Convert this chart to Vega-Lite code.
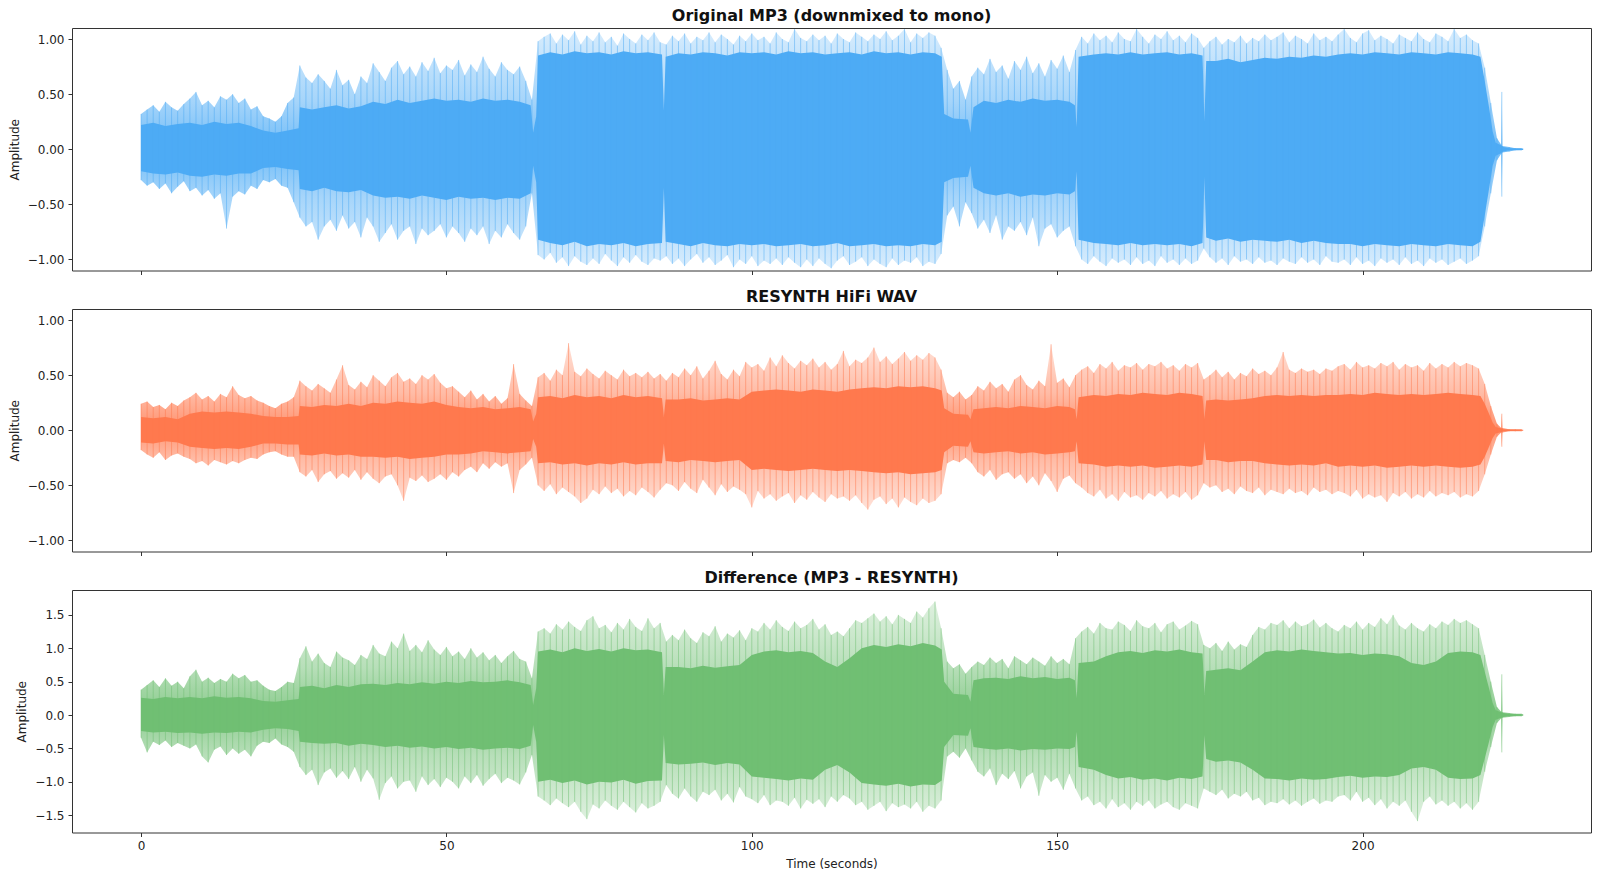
{
  "$schema": "https://vega.github.io/schema/vega-lite/v6.json",
  "background": "white",
  "padding": {"left": 7, "top": 7, "right": 9, "bottom": 6},
  "bounds": "flush",
  "spacing": 38,
  "config": {
    "font": "DejaVu Sans",
    "view": {"stroke": "#333333", "strokeWidth": 1},
    "axis": {
      "labelFont": "DejaVu Sans", "labelFontSize": 12, "labelColor": "#222222",
      "titleFont": "DejaVu Sans", "titleFontSize": 12, "titleFontWeight": "normal", "titleColor": "#222222",
      "domain": false, "grid": false, "tickColor": "#333333", "tickSize": 4, "labelPadding": 4,
      "labelFlush": false, "labelOverlap": false
    },
    "title": {"font": "DejaVu Sans", "fontSize": 16, "fontWeight": "bold", "color": "#111111", "offset": 4, "baseline": "alphabetic"}
  },
  "datasets": {
    "peaks": [
      {"t":0,"mp3Hi":0.32,"mp3Lo":-0.28,"resHi":0.24,"resLo":-0.18,"difHi":0.38,"difLo":-0.34},
      {"t":1,"mp3Hi":0.36,"mp3Lo":-0.33,"resHi":0.26,"resLo":-0.22,"difHi":0.45,"difLo":-0.56},
      {"t":2,"mp3Hi":0.40,"mp3Lo":-0.30,"resHi":0.21,"resLo":-0.25,"difHi":0.52,"difLo":-0.40},
      {"t":3,"mp3Hi":0.34,"mp3Lo":-0.36,"resHi":0.23,"resLo":-0.20,"difHi":0.42,"difLo":-0.45},
      {"t":4,"mp3Hi":0.43,"mp3Lo":-0.31,"resHi":0.19,"resLo":-0.27,"difHi":0.55,"difLo":-0.38},
      {"t":5,"mp3Hi":0.38,"mp3Lo":-0.40,"resHi":0.25,"resLo":-0.23,"difHi":0.44,"difLo":-0.48},
      {"t":6,"mp3Hi":0.35,"mp3Lo":-0.34,"resHi":0.22,"resLo":-0.21,"difHi":0.50,"difLo":-0.42},
      {"t":7,"mp3Hi":0.41,"mp3Lo":-0.29,"resHi":0.27,"resLo":-0.24,"difHi":0.40,"difLo":-0.46},
      {"t":8,"mp3Hi":0.46,"mp3Lo":-0.38,"resHi":0.30,"resLo":-0.26,"difHi":0.58,"difLo":-0.50},
      {"t":9,"mp3Hi":0.52,"mp3Lo":-0.35,"resHi":0.34,"resLo":-0.30,"difHi":0.68,"difLo":-0.44},
      {"t":10,"mp3Hi":0.40,"mp3Lo":-0.42,"resHi":0.28,"resLo":-0.28,"difHi":0.50,"difLo":-0.62},
      {"t":11,"mp3Hi":0.44,"mp3Lo":-0.37,"resHi":0.31,"resLo":-0.32,"difHi":0.56,"difLo":-0.71},
      {"t":12,"mp3Hi":0.38,"mp3Lo":-0.45,"resHi":0.26,"resLo":-0.27,"difHi":0.48,"difLo":-0.52},
      {"t":13,"mp3Hi":0.48,"mp3Lo":-0.40,"resHi":0.33,"resLo":-0.29,"difHi":0.54,"difLo":-0.47},
      {"t":14,"mp3Hi":0.45,"mp3Lo":-0.72,"resHi":0.30,"resLo":-0.31,"difHi":0.50,"difLo":-0.60},
      {"t":15,"mp3Hi":0.50,"mp3Lo":-0.43,"resHi":0.40,"resLo":-0.28,"difHi":0.62,"difLo":-0.50},
      {"t":16,"mp3Hi":0.42,"mp3Lo":-0.38,"resHi":0.32,"resLo":-0.30,"difHi":0.55,"difLo":-0.58},
      {"t":17,"mp3Hi":0.46,"mp3Lo":-0.41,"resHi":0.29,"resLo":-0.27,"difHi":0.60,"difLo":-0.52},
      {"t":18,"mp3Hi":0.36,"mp3Lo":-0.33,"resHi":0.31,"resLo":-0.25,"difHi":0.50,"difLo":-0.62},
      {"t":19,"mp3Hi":0.39,"mp3Lo":-0.36,"resHi":0.27,"resLo":-0.26,"difHi":0.52,"difLo":-0.46},
      {"t":20,"mp3Hi":0.30,"mp3Lo":-0.28,"resHi":0.25,"resLo":-0.22,"difHi":0.44,"difLo":-0.40},
      {"t":21,"mp3Hi":0.28,"mp3Lo":-0.30,"resHi":0.22,"resLo":-0.20,"difHi":0.38,"difLo":-0.42},
      {"t":22,"mp3Hi":0.25,"mp3Lo":-0.27,"resHi":0.20,"resLo":-0.19,"difHi":0.36,"difLo":-0.35},
      {"t":23,"mp3Hi":0.30,"mp3Lo":-0.33,"resHi":0.24,"resLo":-0.22,"difHi":0.42,"difLo":-0.44},
      {"t":24,"mp3Hi":0.42,"mp3Lo":-0.35,"resHi":0.26,"resLo":-0.24,"difHi":0.50,"difLo":-0.48},
      {"t":25,"mp3Hi":0.47,"mp3Lo":-0.48,"resHi":0.30,"resLo":-0.24,"difHi":0.48,"difLo":-0.55},
      {"t":26,"mp3Hi":0.76,"mp3Lo":-0.62,"resHi":0.45,"resLo":-0.38,"difHi":0.85,"difLo":-0.78},
      {"t":27,"mp3Hi":0.65,"mp3Lo":-0.70,"resHi":0.40,"resLo":-0.42,"difHi":1.03,"difLo":-0.90},
      {"t":28,"mp3Hi":0.60,"mp3Lo":-0.66,"resHi":0.36,"resLo":-0.36,"difHi":0.80,"difLo":-0.82},
      {"t":29,"mp3Hi":0.68,"mp3Lo":-0.82,"resHi":0.42,"resLo":-0.47,"difHi":0.92,"difLo":-1.05},
      {"t":30,"mp3Hi":0.62,"mp3Lo":-0.70,"resHi":0.38,"resLo":-0.40,"difHi":0.78,"difLo":-0.86},
      {"t":31,"mp3Hi":0.55,"mp3Lo":-0.64,"resHi":0.34,"resLo":-0.37,"difHi":0.72,"difLo":-0.80},
      {"t":32,"mp3Hi":0.72,"mp3Lo":-0.74,"resHi":0.46,"resLo":-0.44,"difHi":0.95,"difLo":-0.94},
      {"t":33,"mp3Hi":0.58,"mp3Lo":-0.60,"resHi":0.59,"resLo":-0.39,"difHi":0.86,"difLo":-0.84},
      {"t":34,"mp3Hi":0.63,"mp3Lo":-0.72,"resHi":0.41,"resLo":-0.43,"difHi":0.82,"difLo":-0.96},
      {"t":35,"mp3Hi":0.50,"mp3Lo":-0.66,"resHi":0.37,"resLo":-0.36,"difHi":0.75,"difLo":-0.78},
      {"t":36,"mp3Hi":0.66,"mp3Lo":-0.80,"resHi":0.44,"resLo":-0.45,"difHi":0.90,"difLo":-1.00},
      {"t":37,"mp3Hi":0.60,"mp3Lo":-0.62,"resHi":0.39,"resLo":-0.38,"difHi":0.84,"difLo":-0.82},
      {"t":38,"mp3Hi":0.78,"mp3Lo":-0.70,"resHi":0.50,"resLo":-0.44,"difHi":1.05,"difLo":-0.95},
      {"t":39,"mp3Hi":0.70,"mp3Lo":-0.84,"resHi":0.45,"resLo":-0.48,"difHi":0.92,"difLo":-1.27},
      {"t":40,"mp3Hi":0.62,"mp3Lo":-0.76,"resHi":0.40,"resLo":-0.42,"difHi":0.88,"difLo":-1.02},
      {"t":41,"mp3Hi":0.74,"mp3Lo":-0.68,"resHi":0.48,"resLo":-0.40,"difHi":1.10,"difLo":-0.92},
      {"t":42,"mp3Hi":0.80,"mp3Lo":-0.82,"resHi":0.52,"resLo":-0.50,"difHi":1.00,"difLo":-1.10},
      {"t":43,"mp3Hi":0.68,"mp3Lo":-0.74,"resHi":0.44,"resLo":-0.64,"difHi":1.22,"difLo":-1.00},
      {"t":44,"mp3Hi":0.75,"mp3Lo":-0.70,"resHi":0.47,"resLo":-0.43,"difHi":0.96,"difLo":-0.98},
      {"t":45,"mp3Hi":0.66,"mp3Lo":-0.86,"resHi":0.42,"resLo":-0.46,"difHi":1.05,"difLo":-1.15},
      {"t":46,"mp3Hi":0.79,"mp3Lo":-0.72,"resHi":0.50,"resLo":-0.41,"difHi":0.94,"difLo":-0.92},
      {"t":47,"mp3Hi":0.71,"mp3Lo":-0.78,"resHi":0.46,"resLo":-0.47,"difHi":1.12,"difLo":-1.05},
      {"t":48,"mp3Hi":0.83,"mp3Lo":-0.74,"resHi":0.51,"resLo":-0.44,"difHi":0.98,"difLo":-0.96},
      {"t":49,"mp3Hi":0.69,"mp3Lo":-0.68,"resHi":0.43,"resLo":-0.40,"difHi":0.90,"difLo":-1.08},
      {"t":50,"mp3Hi":0.76,"mp3Lo":-0.80,"resHi":0.38,"resLo":-0.45,"difHi":1.02,"difLo":-0.94},
      {"t":51,"mp3Hi":0.72,"mp3Lo":-0.70,"resHi":0.40,"resLo":-0.38,"difHi":0.88,"difLo":-1.00},
      {"t":52,"mp3Hi":0.81,"mp3Lo":-0.76,"resHi":0.35,"resLo":-0.42,"difHi":0.95,"difLo":-1.10},
      {"t":53,"mp3Hi":0.67,"mp3Lo":-0.84,"resHi":0.30,"resLo":-0.36,"difHi":0.84,"difLo":-0.92},
      {"t":54,"mp3Hi":0.77,"mp3Lo":-0.72,"resHi":0.36,"resLo":-0.33,"difHi":1.00,"difLo":-1.02},
      {"t":55,"mp3Hi":0.70,"mp3Lo":-0.78,"resHi":0.28,"resLo":-0.38,"difHi":0.86,"difLo":-0.90},
      {"t":56,"mp3Hi":0.84,"mp3Lo":-0.70,"resHi":0.33,"resLo":-0.30,"difHi":0.94,"difLo":-1.06},
      {"t":57,"mp3Hi":0.73,"mp3Lo":-0.86,"resHi":0.26,"resLo":-0.35,"difHi":0.82,"difLo":-0.96},
      {"t":58,"mp3Hi":0.66,"mp3Lo":-0.74,"resHi":0.31,"resLo":-0.29,"difHi":0.90,"difLo":-0.88},
      {"t":59,"mp3Hi":0.79,"mp3Lo":-0.80,"resHi":0.24,"resLo":-0.33,"difHi":0.78,"difLo":-1.02},
      {"t":60,"mp3Hi":0.72,"mp3Lo":-0.68,"resHi":0.29,"resLo":-0.30,"difHi":0.88,"difLo":-0.94},
      {"t":61,"mp3Hi":0.68,"mp3Lo":-0.76,"resHi":0.60,"resLo":-0.57,"difHi":0.96,"difLo":-0.98},
      {"t":62,"mp3Hi":0.75,"mp3Lo":-0.82,"resHi":0.33,"resLo":-0.36,"difHi":0.84,"difLo":-1.04},
      {"t":63,"mp3Hi":0.62,"mp3Lo":-0.70,"resHi":0.27,"resLo":-0.31,"difHi":0.80,"difLo":-0.86},
      {"t":64,"mp3Hi":0.45,"mp3Lo":-0.40,"resHi":0.22,"resLo":-0.25,"difHi":0.55,"difLo":-0.60},
      {"t":65,"mp3Hi":0.98,"mp3Lo":-0.96,"resHi":0.48,"resLo":-0.50,"difHi":1.25,"difLo":-1.22},
      {"t":66,"mp3Hi":1.02,"mp3Lo":-1.00,"resHi":0.52,"resLo":-0.55,"difHi":1.30,"difLo":-1.28},
      {"t":67,"mp3Hi":1.05,"mp3Lo":-0.94,"resHi":0.45,"resLo":-0.49,"difHi":1.22,"difLo":-1.35},
      {"t":68,"mp3Hi":0.96,"mp3Lo":-1.03,"resHi":0.55,"resLo":-0.58,"difHi":1.36,"difLo":-1.25},
      {"t":69,"mp3Hi":1.04,"mp3Lo":-0.98,"resHi":0.50,"resLo":-0.52,"difHi":1.28,"difLo":-1.32},
      {"t":70,"mp3Hi":0.99,"mp3Lo":-1.06,"resHi":0.79,"resLo":-0.56,"difHi":1.40,"difLo":-1.38},
      {"t":71,"mp3Hi":1.07,"mp3Lo":-0.97,"resHi":0.53,"resLo":-0.60,"difHi":1.32,"difLo":-1.30},
      {"t":72,"mp3Hi":0.95,"mp3Lo":-1.02,"resHi":0.49,"resLo":-0.66,"difHi":1.26,"difLo":-1.45},
      {"t":73,"mp3Hi":1.03,"mp3Lo":-1.05,"resHi":0.56,"resLo":-0.62,"difHi":1.42,"difLo":-1.56},
      {"t":74,"mp3Hi":0.98,"mp3Lo":-0.99,"resHi":0.51,"resLo":-0.54,"difHi":1.48,"difLo":-1.34},
      {"t":75,"mp3Hi":1.06,"mp3Lo":-1.04,"resHi":0.47,"resLo":-0.58,"difHi":1.30,"difLo":-1.40},
      {"t":76,"mp3Hi":0.97,"mp3Lo":-0.95,"resHi":0.54,"resLo":-0.51,"difHi":1.35,"difLo":-1.28},
      {"t":77,"mp3Hi":1.02,"mp3Lo":-1.01,"resHi":0.50,"resLo":-0.57,"difHi":1.24,"difLo":-1.36},
      {"t":78,"mp3Hi":0.94,"mp3Lo":-1.06,"resHi":0.46,"resLo":-0.53,"difHi":1.38,"difLo":-1.42},
      {"t":79,"mp3Hi":1.05,"mp3Lo":-0.98,"resHi":0.55,"resLo":-0.60,"difHi":1.28,"difLo":-1.30},
      {"t":80,"mp3Hi":1.00,"mp3Lo":-1.03,"resHi":0.49,"resLo":-0.55,"difHi":1.44,"difLo":-1.38},
      {"t":81,"mp3Hi":0.96,"mp3Lo":-0.96,"resHi":0.52,"resLo":-0.59,"difHi":1.32,"difLo":-1.46},
      {"t":82,"mp3Hi":1.04,"mp3Lo":-1.02,"resHi":0.48,"resLo":-0.52,"difHi":1.26,"difLo":-1.32},
      {"t":83,"mp3Hi":0.99,"mp3Lo":-1.05,"resHi":0.53,"resLo":-0.56,"difHi":1.45,"difLo":-1.40},
      {"t":84,"mp3Hi":1.06,"mp3Lo":-0.99,"resHi":0.47,"resLo":-0.61,"difHi":1.30,"difLo":-1.36},
      {"t":85,"mp3Hi":0.97,"mp3Lo":-1.01,"resHi":0.51,"resLo":-0.54,"difHi":1.38,"difLo":-1.30},
      {"t":86,"mp3Hi":0.95,"mp3Lo":-0.97,"resHi":0.45,"resLo":-0.48,"difHi":1.10,"difLo":-1.05},
      {"t":87,"mp3Hi":1.03,"mp3Lo":-1.04,"resHi":0.52,"resLo":-0.50,"difHi":1.20,"difLo":-1.18},
      {"t":88,"mp3Hi":0.98,"mp3Lo":-0.99,"resHi":0.48,"resLo":-0.55,"difHi":1.12,"difLo":-1.25},
      {"t":89,"mp3Hi":1.05,"mp3Lo":-1.06,"resHi":0.56,"resLo":-0.47,"difHi":1.28,"difLo":-1.10},
      {"t":90,"mp3Hi":0.96,"mp3Lo":-1.00,"resHi":0.50,"resLo":-0.53,"difHi":1.15,"difLo":-1.22},
      {"t":91,"mp3Hi":1.02,"mp3Lo":-0.95,"resHi":0.58,"resLo":-0.57,"difHi":1.08,"difLo":-1.30},
      {"t":92,"mp3Hi":0.99,"mp3Lo":-1.03,"resHi":0.47,"resLo":-0.45,"difHi":1.24,"difLo":-1.15},
      {"t":93,"mp3Hi":1.06,"mp3Lo":-0.98,"resHi":0.54,"resLo":-0.52,"difHi":1.18,"difLo":-1.20},
      {"t":94,"mp3Hi":0.97,"mp3Lo":-1.05,"resHi":0.63,"resLo":-0.59,"difHi":1.33,"difLo":-1.12},
      {"t":95,"mp3Hi":1.04,"mp3Lo":-1.01,"resHi":0.51,"resLo":-0.49,"difHi":1.10,"difLo":-1.28},
      {"t":96,"mp3Hi":1.00,"mp3Lo":-0.96,"resHi":0.46,"resLo":-0.56,"difHi":1.22,"difLo":-1.18},
      {"t":97,"mp3Hi":0.95,"mp3Lo":-1.07,"resHi":0.55,"resLo":-0.51,"difHi":1.16,"difLo":-1.31},
      {"t":98,"mp3Hi":1.03,"mp3Lo":-1.00,"resHi":0.49,"resLo":-0.54,"difHi":1.27,"difLo":-1.08},
      {"t":99,"mp3Hi":0.98,"mp3Lo":-1.04,"resHi":0.62,"resLo":-0.58,"difHi":1.12,"difLo":-1.22},
      {"t":100,"mp3Hi":1.05,"mp3Lo":-0.97,"resHi":0.57,"resLo":-0.70,"difHi":1.30,"difLo":-1.26},
      {"t":101,"mp3Hi":0.99,"mp3Lo":-1.06,"resHi":0.60,"resLo":-0.55,"difHi":1.25,"difLo":-1.32},
      {"t":102,"mp3Hi":1.02,"mp3Lo":-1.01,"resHi":0.54,"resLo":-0.62,"difHi":1.38,"difLo":-1.20},
      {"t":103,"mp3Hi":0.96,"mp3Lo":-1.04,"resHi":0.66,"resLo":-0.58,"difHi":1.28,"difLo":-1.35},
      {"t":104,"mp3Hi":1.06,"mp3Lo":-0.99,"resHi":0.58,"resLo":-0.64,"difHi":1.42,"difLo":-1.28},
      {"t":105,"mp3Hi":1.00,"mp3Lo":-1.05,"resHi":0.68,"resLo":-0.60,"difHi":1.32,"difLo":-1.30},
      {"t":106,"mp3Hi":0.97,"mp3Lo":-0.98,"resHi":0.61,"resLo":-0.57,"difHi":1.26,"difLo":-1.36},
      {"t":107,"mp3Hi":1.09,"mp3Lo":-1.03,"resHi":0.56,"resLo":-0.66,"difHi":1.40,"difLo":-1.24},
      {"t":108,"mp3Hi":1.01,"mp3Lo":-1.07,"resHi":0.63,"resLo":-0.59,"difHi":1.30,"difLo":-1.40},
      {"t":109,"mp3Hi":0.98,"mp3Lo":-1.00,"resHi":0.59,"resLo":-0.63,"difHi":1.35,"difLo":-1.27},
      {"t":110,"mp3Hi":1.04,"mp3Lo":-1.06,"resHi":0.65,"resLo":-0.56,"difHi":1.44,"difLo":-1.33},
      {"t":111,"mp3Hi":0.99,"mp3Lo":-0.99,"resHi":0.57,"resLo":-0.61,"difHi":1.28,"difLo":-1.26},
      {"t":112,"mp3Hi":1.03,"mp3Lo":-1.04,"resHi":0.62,"resLo":-0.65,"difHi":1.36,"difLo":-1.38},
      {"t":113,"mp3Hi":0.96,"mp3Lo":-1.08,"resHi":0.55,"resLo":-0.58,"difHi":1.20,"difLo":-1.22},
      {"t":114,"mp3Hi":1.05,"mp3Lo":-1.01,"resHi":0.60,"resLo":-0.62,"difHi":1.25,"difLo":-1.30},
      {"t":115,"mp3Hi":1.00,"mp3Lo":-0.97,"resHi":0.72,"resLo":-0.60,"difHi":1.18,"difLo":-1.20},
      {"t":116,"mp3Hi":0.97,"mp3Lo":-1.05,"resHi":0.58,"resLo":-0.64,"difHi":1.30,"difLo":-1.25},
      {"t":117,"mp3Hi":1.06,"mp3Lo":-1.02,"resHi":0.64,"resLo":-0.59,"difHi":1.42,"difLo":-1.35},
      {"t":118,"mp3Hi":1.02,"mp3Lo":-0.98,"resHi":0.61,"resLo":-0.66,"difHi":1.38,"difLo":-1.30},
      {"t":119,"mp3Hi":0.98,"mp3Lo":-1.06,"resHi":0.66,"resLo":-0.72,"difHi":1.45,"difLo":-1.42},
      {"t":120,"mp3Hi":1.04,"mp3Lo":-1.00,"resHi":0.75,"resLo":-0.63,"difHi":1.52,"difLo":-1.36},
      {"t":121,"mp3Hi":1.00,"mp3Lo":-1.04,"resHi":0.62,"resLo":-0.60,"difHi":1.40,"difLo":-1.30},
      {"t":122,"mp3Hi":1.07,"mp3Lo":-1.07,"resHi":0.67,"resLo":-0.67,"difHi":1.48,"difLo":-1.44},
      {"t":123,"mp3Hi":0.99,"mp3Lo":-0.99,"resHi":0.60,"resLo":-0.62,"difHi":1.36,"difLo":-1.32},
      {"t":124,"mp3Hi":1.03,"mp3Lo":-1.05,"resHi":0.65,"resLo":-0.70,"difHi":1.50,"difLo":-1.38},
      {"t":125,"mp3Hi":1.09,"mp3Lo":-1.01,"resHi":0.71,"resLo":-0.61,"difHi":1.44,"difLo":-1.34},
      {"t":126,"mp3Hi":0.97,"mp3Lo":-1.03,"resHi":0.63,"resLo":-0.65,"difHi":1.38,"difLo":-1.40},
      {"t":127,"mp3Hi":1.05,"mp3Lo":-0.98,"resHi":0.68,"resLo":-0.68,"difHi":1.55,"difLo":-1.30},
      {"t":128,"mp3Hi":1.01,"mp3Lo":-1.06,"resHi":0.64,"resLo":-0.62,"difHi":1.46,"difLo":-1.45},
      {"t":129,"mp3Hi":1.06,"mp3Lo":-1.02,"resHi":0.70,"resLo":-0.66,"difHi":1.60,"difLo":-1.36},
      {"t":130,"mp3Hi":1.03,"mp3Lo":-1.04,"resHi":0.66,"resLo":-0.64,"difHi":1.70,"difLo":-1.40},
      {"t":131,"mp3Hi":0.92,"mp3Lo":-0.95,"resHi":0.55,"resLo":-0.58,"difHi":1.30,"difLo":-1.28},
      {"t":132,"mp3Hi":0.72,"mp3Lo":-0.60,"resHi":0.34,"resLo":-0.30,"difHi":0.80,"difLo":-0.62},
      {"t":133,"mp3Hi":0.55,"mp3Lo":-0.52,"resHi":0.30,"resLo":-0.27,"difHi":0.70,"difLo":-0.55},
      {"t":134,"mp3Hi":0.62,"mp3Lo":-0.70,"resHi":0.35,"resLo":-0.29,"difHi":0.76,"difLo":-0.64},
      {"t":135,"mp3Hi":0.45,"mp3Lo":-0.48,"resHi":0.28,"resLo":-0.25,"difHi":0.62,"difLo":-0.50},
      {"t":136,"mp3Hi":0.66,"mp3Lo":-0.58,"resHi":0.32,"resLo":-0.30,"difHi":0.72,"difLo":-0.68},
      {"t":137,"mp3Hi":0.74,"mp3Lo":-0.72,"resHi":0.40,"resLo":-0.38,"difHi":0.80,"difLo":-0.85},
      {"t":138,"mp3Hi":0.68,"mp3Lo":-0.64,"resHi":0.36,"resLo":-0.42,"difHi":0.75,"difLo":-0.92},
      {"t":139,"mp3Hi":0.82,"mp3Lo":-0.76,"resHi":0.44,"resLo":-0.36,"difHi":0.86,"difLo":-0.80},
      {"t":140,"mp3Hi":0.70,"mp3Lo":-0.60,"resHi":0.38,"resLo":-0.45,"difHi":0.78,"difLo":-1.05},
      {"t":141,"mp3Hi":0.76,"mp3Lo":-0.82,"resHi":0.42,"resLo":-0.40,"difHi":0.84,"difLo":-0.88},
      {"t":142,"mp3Hi":0.64,"mp3Lo":-0.70,"resHi":0.35,"resLo":-0.38,"difHi":0.70,"difLo":-0.96},
      {"t":143,"mp3Hi":0.80,"mp3Lo":-0.74,"resHi":0.46,"resLo":-0.44,"difHi":0.88,"difLo":-0.84},
      {"t":144,"mp3Hi":0.72,"mp3Lo":-0.66,"resHi":0.50,"resLo":-0.40,"difHi":0.82,"difLo":-1.10},
      {"t":145,"mp3Hi":0.84,"mp3Lo":-0.78,"resHi":0.41,"resLo":-0.48,"difHi":0.76,"difLo":-0.92},
      {"t":146,"mp3Hi":0.69,"mp3Lo":-0.62,"resHi":0.37,"resLo":-0.42,"difHi":0.86,"difLo":-0.86},
      {"t":147,"mp3Hi":0.78,"mp3Lo":-0.88,"resHi":0.45,"resLo":-0.50,"difHi":0.80,"difLo":-1.21},
      {"t":148,"mp3Hi":0.66,"mp3Lo":-0.72,"resHi":0.40,"resLo":-0.39,"difHi":0.74,"difLo":-0.90},
      {"t":149,"mp3Hi":0.81,"mp3Lo":-0.68,"resHi":0.78,"resLo":-0.46,"difHi":0.88,"difLo":-1.00},
      {"t":150,"mp3Hi":0.73,"mp3Lo":-0.80,"resHi":0.43,"resLo":-0.56,"difHi":0.78,"difLo":-0.94},
      {"t":151,"mp3Hi":0.85,"mp3Lo":-0.74,"resHi":0.47,"resLo":-0.44,"difHi":0.84,"difLo":-1.12},
      {"t":152,"mp3Hi":0.70,"mp3Lo":-0.70,"resHi":0.39,"resLo":-0.41,"difHi":0.76,"difLo":-0.88},
      {"t":153,"mp3Hi":0.90,"mp3Lo":-0.88,"resHi":0.50,"resLo":-0.48,"difHi":1.15,"difLo":-1.10},
      {"t":154,"mp3Hi":1.02,"mp3Lo":-1.00,"resHi":0.55,"resLo":-0.52,"difHi":1.25,"difLo":-1.28},
      {"t":155,"mp3Hi":0.96,"mp3Lo":-1.04,"resHi":0.58,"resLo":-0.57,"difHi":1.32,"difLo":-1.22},
      {"t":156,"mp3Hi":1.05,"mp3Lo":-0.97,"resHi":0.52,"resLo":-0.60,"difHi":1.22,"difLo":-1.35},
      {"t":157,"mp3Hi":0.99,"mp3Lo":-1.02,"resHi":0.60,"resLo":-0.54,"difHi":1.38,"difLo":-1.30},
      {"t":158,"mp3Hi":1.03,"mp3Lo":-1.06,"resHi":0.56,"resLo":-0.62,"difHi":1.30,"difLo":-1.40},
      {"t":159,"mp3Hi":0.97,"mp3Lo":-0.99,"resHi":0.62,"resLo":-0.58,"difHi":1.28,"difLo":-1.26},
      {"t":160,"mp3Hi":1.06,"mp3Lo":-1.03,"resHi":0.54,"resLo":-0.64,"difHi":1.40,"difLo":-1.38},
      {"t":161,"mp3Hi":1.00,"mp3Lo":-1.00,"resHi":0.59,"resLo":-0.56,"difHi":1.35,"difLo":-1.32},
      {"t":162,"mp3Hi":0.98,"mp3Lo":-1.05,"resHi":0.57,"resLo":-0.61,"difHi":1.26,"difLo":-1.42},
      {"t":163,"mp3Hi":1.09,"mp3Lo":-0.98,"resHi":0.61,"resLo":-0.59,"difHi":1.42,"difLo":-1.30},
      {"t":164,"mp3Hi":1.02,"mp3Lo":-1.04,"resHi":0.55,"resLo":-0.63,"difHi":1.33,"difLo":-1.36},
      {"t":165,"mp3Hi":0.96,"mp3Lo":-1.01,"resHi":0.60,"resLo":-0.57,"difHi":1.30,"difLo":-1.28},
      {"t":166,"mp3Hi":1.04,"mp3Lo":-1.06,"resHi":0.58,"resLo":-0.60,"difHi":1.38,"difLo":-1.40},
      {"t":167,"mp3Hi":1.00,"mp3Lo":-0.97,"resHi":0.62,"resLo":-0.55,"difHi":1.24,"difLo":-1.34},
      {"t":168,"mp3Hi":1.07,"mp3Lo":-1.03,"resHi":0.56,"resLo":-0.62,"difHi":1.36,"difLo":-1.30},
      {"t":169,"mp3Hi":0.99,"mp3Lo":-1.00,"resHi":0.59,"resLo":-0.58,"difHi":1.40,"difLo":-1.38},
      {"t":170,"mp3Hi":1.03,"mp3Lo":-1.05,"resHi":0.54,"resLo":-0.61,"difHi":1.28,"difLo":-1.42},
      {"t":171,"mp3Hi":0.97,"mp3Lo":-0.99,"resHi":0.60,"resLo":-0.56,"difHi":1.34,"difLo":-1.32},
      {"t":172,"mp3Hi":1.05,"mp3Lo":-1.04,"resHi":0.57,"resLo":-0.63,"difHi":1.41,"difLo":-1.36},
      {"t":173,"mp3Hi":1.01,"mp3Lo":-1.01,"resHi":0.61,"resLo":-0.59,"difHi":1.36,"difLo":-1.40},
      {"t":174,"mp3Hi":0.92,"mp3Lo":-0.90,"resHi":0.46,"resLo":-0.48,"difHi":1.05,"difLo":-1.10},
      {"t":175,"mp3Hi":0.98,"mp3Lo":-0.98,"resHi":0.50,"resLo":-0.52,"difHi":1.00,"difLo":-1.15},
      {"t":176,"mp3Hi":1.02,"mp3Lo":-1.03,"resHi":0.55,"resLo":-0.50,"difHi":1.08,"difLo":-1.20},
      {"t":177,"mp3Hi":0.95,"mp3Lo":-0.99,"resHi":0.48,"resLo":-0.56,"difHi":0.96,"difLo":-1.12},
      {"t":178,"mp3Hi":1.00,"mp3Lo":-1.05,"resHi":0.53,"resLo":-0.53,"difHi":1.10,"difLo":-1.25},
      {"t":179,"mp3Hi":0.97,"mp3Lo":-0.97,"resHi":0.46,"resLo":-0.58,"difHi":0.98,"difLo":-1.18},
      {"t":180,"mp3Hi":1.03,"mp3Lo":-1.02,"resHi":0.52,"resLo":-0.51,"difHi":1.06,"difLo":-1.22},
      {"t":181,"mp3Hi":0.96,"mp3Lo":-1.00,"resHi":0.49,"resLo":-0.55,"difHi":1.02,"difLo":-1.15},
      {"t":182,"mp3Hi":1.01,"mp3Lo":-1.04,"resHi":0.56,"resLo":-0.57,"difHi":1.20,"difLo":-1.28},
      {"t":183,"mp3Hi":0.98,"mp3Lo":-0.98,"resHi":0.51,"resLo":-0.52,"difHi":1.32,"difLo":-1.24},
      {"t":184,"mp3Hi":1.04,"mp3Lo":-1.03,"resHi":0.54,"resLo":-0.59,"difHi":1.28,"difLo":-1.35},
      {"t":185,"mp3Hi":0.99,"mp3Lo":-1.01,"resHi":0.50,"resLo":-0.54,"difHi":1.38,"difLo":-1.30},
      {"t":186,"mp3Hi":1.02,"mp3Lo":-1.05,"resHi":0.57,"resLo":-0.56,"difHi":1.35,"difLo":-1.32},
      {"t":187,"mp3Hi":1.06,"mp3Lo":-0.99,"resHi":0.71,"resLo":-0.58,"difHi":1.42,"difLo":-1.26},
      {"t":188,"mp3Hi":0.97,"mp3Lo":-1.02,"resHi":0.55,"resLo":-0.53,"difHi":1.30,"difLo":-1.34},
      {"t":189,"mp3Hi":1.03,"mp3Lo":-1.04,"resHi":0.52,"resLo":-0.57,"difHi":1.40,"difLo":-1.28},
      {"t":190,"mp3Hi":1.00,"mp3Lo":-0.98,"resHi":0.56,"resLo":-0.55,"difHi":1.33,"difLo":-1.36},
      {"t":191,"mp3Hi":0.96,"mp3Lo":-1.03,"resHi":0.53,"resLo":-0.59,"difHi":1.36,"difLo":-1.30},
      {"t":192,"mp3Hi":1.05,"mp3Lo":-1.00,"resHi":0.55,"resLo":-0.52,"difHi":1.43,"difLo":-1.25},
      {"t":193,"mp3Hi":0.99,"mp3Lo":-1.05,"resHi":0.51,"resLo":-0.56,"difHi":1.31,"difLo":-1.33},
      {"t":194,"mp3Hi":1.02,"mp3Lo":-0.97,"resHi":0.56,"resLo":-0.54,"difHi":1.38,"difLo":-1.28},
      {"t":195,"mp3Hi":0.98,"mp3Lo":-1.02,"resHi":0.54,"resLo":-0.58,"difHi":1.30,"difLo":-1.30},
      {"t":196,"mp3Hi":1.04,"mp3Lo":-1.03,"resHi":0.58,"resLo":-0.55,"difHi":1.25,"difLo":-1.22},
      {"t":197,"mp3Hi":1.09,"mp3Lo":-1.00,"resHi":0.60,"resLo":-0.57,"difHi":1.35,"difLo":-1.20},
      {"t":198,"mp3Hi":1.01,"mp3Lo":-1.05,"resHi":0.55,"resLo":-0.60,"difHi":1.30,"difLo":-1.28},
      {"t":199,"mp3Hi":0.97,"mp3Lo":-0.98,"resHi":0.62,"resLo":-0.54,"difHi":1.40,"difLo":-1.15},
      {"t":200,"mp3Hi":1.05,"mp3Lo":-1.04,"resHi":0.57,"resLo":-0.62,"difHi":1.28,"difLo":-1.30},
      {"t":201,"mp3Hi":1.08,"mp3Lo":-1.01,"resHi":0.59,"resLo":-0.58,"difHi":1.38,"difLo":-1.24},
      {"t":202,"mp3Hi":0.99,"mp3Lo":-1.06,"resHi":0.56,"resLo":-0.61,"difHi":1.32,"difLo":-1.35},
      {"t":203,"mp3Hi":1.03,"mp3Lo":-0.99,"resHi":0.61,"resLo":-0.59,"difHi":1.45,"difLo":-1.26},
      {"t":204,"mp3Hi":1.00,"mp3Lo":-1.03,"resHi":0.58,"resLo":-0.65,"difHi":1.36,"difLo":-1.40},
      {"t":205,"mp3Hi":0.96,"mp3Lo":-1.00,"resHi":0.62,"resLo":-0.57,"difHi":1.50,"difLo":-1.30},
      {"t":206,"mp3Hi":1.04,"mp3Lo":-1.05,"resHi":0.55,"resLo":-0.60,"difHi":1.34,"difLo":-1.36},
      {"t":207,"mp3Hi":1.01,"mp3Lo":-0.98,"resHi":0.60,"resLo":-0.56,"difHi":1.28,"difLo":-1.28},
      {"t":208,"mp3Hi":0.98,"mp3Lo":-1.04,"resHi":0.57,"resLo":-0.62,"difHi":1.38,"difLo":-1.45},
      {"t":209,"mp3Hi":1.06,"mp3Lo":-1.01,"resHi":0.59,"resLo":-0.58,"difHi":1.30,"difLo":-1.59},
      {"t":210,"mp3Hi":1.00,"mp3Lo":-1.06,"resHi":0.54,"resLo":-0.61,"difHi":1.25,"difLo":-1.30},
      {"t":211,"mp3Hi":0.97,"mp3Lo":-0.99,"resHi":0.61,"resLo":-0.55,"difHi":1.36,"difLo":-1.22},
      {"t":212,"mp3Hi":1.05,"mp3Lo":-1.03,"resHi":0.56,"resLo":-0.60,"difHi":1.30,"difLo":-1.34},
      {"t":213,"mp3Hi":1.02,"mp3Lo":-1.00,"resHi":0.60,"resLo":-0.57,"difHi":1.40,"difLo":-1.28},
      {"t":214,"mp3Hi":0.98,"mp3Lo":-1.05,"resHi":0.57,"resLo":-0.59,"difHi":1.35,"difLo":-1.36},
      {"t":215,"mp3Hi":1.09,"mp3Lo":-1.02,"resHi":0.62,"resLo":-0.56,"difHi":1.44,"difLo":-1.30},
      {"t":216,"mp3Hi":1.01,"mp3Lo":-0.99,"resHi":0.58,"resLo":-0.61,"difHi":1.38,"difLo":-1.40},
      {"t":217,"mp3Hi":1.04,"mp3Lo":-1.04,"resHi":0.61,"resLo":-0.58,"difHi":1.42,"difLo":-1.32},
      {"t":218,"mp3Hi":0.99,"mp3Lo":-1.01,"resHi":0.59,"resLo":-0.60,"difHi":1.36,"difLo":-1.42},
      {"t":219,"mp3Hi":0.96,"mp3Lo":-0.97,"resHi":0.56,"resLo":-0.55,"difHi":1.30,"difLo":-1.30},
      {"t":220,"mp3Hi":0.74,"mp3Lo":-0.70,"resHi":0.42,"resLo":-0.40,"difHi":0.90,"difLo":-0.85},
      {"t":221,"mp3Hi":0.42,"mp3Lo":-0.40,"resHi":0.22,"resLo":-0.22,"difHi":0.50,"difLo":-0.48},
      {"t":222,"mp3Hi":0.10,"mp3Lo":-0.10,"resHi":0.06,"resLo":-0.06,"difHi":0.12,"difLo":-0.12},
      {"t":222.7,"mp3Hi":0.04,"mp3Lo":-0.04,"resHi":0.02,"resLo":-0.02,"difHi":0.05,"difLo":-0.05},
      {"t":222.8,"mp3Hi":0.52,"mp3Lo":-0.43,"resHi":0.15,"resLo":-0.15,"difHi":0.61,"difLo":-0.56},
      {"t":222.9,"mp3Hi":0.03,"mp3Lo":-0.03,"resHi":0.02,"resLo":-0.02,"difHi":0.04,"difLo":-0.04},
      {"t":224,"mp3Hi":0.02,"mp3Lo":-0.02,"resHi":0.01,"resLo":-0.01,"difHi":0.03,"difLo":-0.03},
      {"t":225,"mp3Hi":0.01,"mp3Lo":-0.01,"resHi":0.01,"resLo":-0.01,"difHi":0.02,"difLo":-0.02},
      {"t":226,"mp3Hi":0.01,"mp3Lo":-0.01,"resHi":0.01,"resLo":-0.01,"difHi":0.02,"difLo":-0.02}
    ],
    "core": [
      {"t":0,"mp3Hi":0.22,"mp3Lo":-0.20,"resHi":0.12,"resLo":-0.11,"difHi":0.26,"difLo":-0.24},
      {"t":2,"mp3Hi":0.24,"mp3Lo":-0.22,"resHi":0.11,"resLo":-0.12,"difHi":0.24,"difLo":-0.26},
      {"t":4,"mp3Hi":0.21,"mp3Lo":-0.23,"resHi":0.12,"resLo":-0.10,"difHi":0.27,"difLo":-0.25},
      {"t":6,"mp3Hi":0.23,"mp3Lo":-0.21,"resHi":0.10,"resLo":-0.11,"difHi":0.25,"difLo":-0.27},
      {"t":8,"mp3Hi":0.24,"mp3Lo":-0.24,"resHi":0.15,"resLo":-0.15,"difHi":0.27,"difLo":-0.26},
      {"t":10,"mp3Hi":0.22,"mp3Lo":-0.25,"resHi":0.17,"resLo":-0.16,"difHi":0.25,"difLo":-0.28},
      {"t":12,"mp3Hi":0.25,"mp3Lo":-0.23,"resHi":0.16,"resLo":-0.17,"difHi":0.28,"difLo":-0.26},
      {"t":14,"mp3Hi":0.23,"mp3Lo":-0.24,"resHi":0.17,"resLo":-0.16,"difHi":0.26,"difLo":-0.27},
      {"t":16,"mp3Hi":0.24,"mp3Lo":-0.22,"resHi":0.16,"resLo":-0.17,"difHi":0.27,"difLo":-0.25},
      {"t":18,"mp3Hi":0.21,"mp3Lo":-0.22,"resHi":0.15,"resLo":-0.15,"difHi":0.25,"difLo":-0.26},
      {"t":20,"mp3Hi":0.17,"mp3Lo":-0.17,"resHi":0.13,"resLo":-0.12,"difHi":0.21,"difLo":-0.22},
      {"t":22,"mp3Hi":0.15,"mp3Lo":-0.16,"resHi":0.12,"resLo":-0.12,"difHi":0.20,"difLo":-0.20},
      {"t":24,"mp3Hi":0.17,"mp3Lo":-0.18,"resHi":0.12,"resLo":-0.13,"difHi":0.22,"difLo":-0.21},
      {"t":25.8,"mp3Hi":0.19,"mp3Lo":-0.19,"resHi":0.13,"resLo":-0.13,"difHi":0.24,"difLo":-0.24},
      {"t":26,"mp3Hi":0.38,"mp3Lo":-0.36,"resHi":0.22,"resLo":-0.22,"difHi":0.42,"difLo":-0.40},
      {"t":28,"mp3Hi":0.36,"mp3Lo":-0.38,"resHi":0.21,"resLo":-0.23,"difHi":0.44,"difLo":-0.42},
      {"t":30,"mp3Hi":0.38,"mp3Lo":-0.35,"resHi":0.23,"resLo":-0.21,"difHi":0.40,"difLo":-0.43},
      {"t":32,"mp3Hi":0.40,"mp3Lo":-0.38,"resHi":0.22,"resLo":-0.23,"difHi":0.45,"difLo":-0.42},
      {"t":34,"mp3Hi":0.37,"mp3Lo":-0.39,"resHi":0.24,"resLo":-0.22,"difHi":0.42,"difLo":-0.46},
      {"t":36,"mp3Hi":0.39,"mp3Lo":-0.37,"resHi":0.22,"resLo":-0.24,"difHi":0.46,"difLo":-0.43},
      {"t":38,"mp3Hi":0.43,"mp3Lo":-0.42,"resHi":0.25,"resLo":-0.24,"difHi":0.47,"difLo":-0.45},
      {"t":40,"mp3Hi":0.41,"mp3Lo":-0.44,"resHi":0.24,"resLo":-0.25,"difHi":0.45,"difLo":-0.48},
      {"t":42,"mp3Hi":0.45,"mp3Lo":-0.43,"resHi":0.26,"resLo":-0.24,"difHi":0.48,"difLo":-0.46},
      {"t":44,"mp3Hi":0.42,"mp3Lo":-0.45,"resHi":0.25,"resLo":-0.26,"difHi":0.46,"difLo":-0.49},
      {"t":46,"mp3Hi":0.44,"mp3Lo":-0.42,"resHi":0.24,"resLo":-0.25,"difHi":0.49,"difLo":-0.47},
      {"t":48,"mp3Hi":0.46,"mp3Lo":-0.44,"resHi":0.26,"resLo":-0.24,"difHi":0.47,"difLo":-0.50},
      {"t":50,"mp3Hi":0.44,"mp3Lo":-0.46,"resHi":0.23,"resLo":-0.22,"difHi":0.50,"difLo":-0.48},
      {"t":52,"mp3Hi":0.45,"mp3Lo":-0.43,"resHi":0.21,"resLo":-0.22,"difHi":0.48,"difLo":-0.51},
      {"t":54,"mp3Hi":0.43,"mp3Lo":-0.45,"resHi":0.20,"resLo":-0.21,"difHi":0.51,"difLo":-0.49},
      {"t":56,"mp3Hi":0.46,"mp3Lo":-0.44,"resHi":0.21,"resLo":-0.19,"difHi":0.49,"difLo":-0.52},
      {"t":58,"mp3Hi":0.44,"mp3Lo":-0.46,"resHi":0.19,"resLo":-0.20,"difHi":0.50,"difLo":-0.50},
      {"t":60,"mp3Hi":0.45,"mp3Lo":-0.44,"resHi":0.20,"resLo":-0.21,"difHi":0.52,"difLo":-0.49},
      {"t":62,"mp3Hi":0.43,"mp3Lo":-0.45,"resHi":0.21,"resLo":-0.20,"difHi":0.49,"difLo":-0.51},
      {"t":63.8,"mp3Hi":0.40,"mp3Lo":-0.40,"resHi":0.19,"resLo":-0.19,"difHi":0.45,"difLo":-0.46},
      {"t":64.2,"mp3Hi":0.15,"mp3Lo":-0.15,"resHi":0.08,"resLo":-0.08,"difHi":0.15,"difLo":-0.15},
      {"t":64.7,"mp3Hi":0.30,"mp3Lo":-0.30,"resHi":0.15,"resLo":-0.15,"difHi":0.40,"difLo":-0.40},
      {"t":65,"mp3Hi":0.85,"mp3Lo":-0.82,"resHi":0.30,"resLo":-0.30,"difHi":0.95,"difLo":-1.00},
      {"t":67,"mp3Hi":0.88,"mp3Lo":-0.85,"resHi":0.31,"resLo":-0.29,"difHi":0.98,"difLo":-0.97},
      {"t":69,"mp3Hi":0.86,"mp3Lo":-0.87,"resHi":0.29,"resLo":-0.31,"difHi":0.94,"difLo":-1.02},
      {"t":71,"mp3Hi":0.89,"mp3Lo":-0.84,"resHi":0.32,"resLo":-0.30,"difHi":1.00,"difLo":-0.98},
      {"t":73,"mp3Hi":0.87,"mp3Lo":-0.88,"resHi":0.30,"resLo":-0.32,"difHi":0.96,"difLo":-1.04},
      {"t":75,"mp3Hi":0.88,"mp3Lo":-0.86,"resHi":0.31,"resLo":-0.30,"difHi":0.99,"difLo":-1.00},
      {"t":77,"mp3Hi":0.86,"mp3Lo":-0.87,"resHi":0.29,"resLo":-0.31,"difHi":0.95,"difLo":-1.01},
      {"t":79,"mp3Hi":0.89,"mp3Lo":-0.85,"resHi":0.32,"resLo":-0.29,"difHi":1.00,"difLo":-0.97},
      {"t":81,"mp3Hi":0.87,"mp3Lo":-0.88,"resHi":0.30,"resLo":-0.31,"difHi":0.97,"difLo":-1.03},
      {"t":83,"mp3Hi":0.88,"mp3Lo":-0.86,"resHi":0.31,"resLo":-0.30,"difHi":0.98,"difLo":-0.99},
      {"t":85.3,"mp3Hi":0.86,"mp3Lo":-0.85,"resHi":0.29,"resLo":-0.30,"difHi":0.94,"difLo":-0.98},
      {"t":85.6,"mp3Hi":0.35,"mp3Lo":-0.35,"resHi":0.12,"resLo":-0.12,"difHi":0.30,"difLo":-0.30},
      {"t":85.9,"mp3Hi":0.84,"mp3Lo":-0.84,"resHi":0.28,"resLo":-0.28,"difHi":0.72,"difLo":-0.72},
      {"t":88,"mp3Hi":0.87,"mp3Lo":-0.86,"resHi":0.28,"resLo":-0.29,"difHi":0.72,"difLo":-0.74},
      {"t":90,"mp3Hi":0.86,"mp3Lo":-0.88,"resHi":0.29,"resLo":-0.27,"difHi":0.70,"difLo":-0.73},
      {"t":92,"mp3Hi":0.88,"mp3Lo":-0.85,"resHi":0.27,"resLo":-0.28,"difHi":0.74,"difLo":-0.71},
      {"t":94,"mp3Hi":0.87,"mp3Lo":-0.87,"resHi":0.28,"resLo":-0.29,"difHi":0.71,"difLo":-0.75},
      {"t":96,"mp3Hi":0.85,"mp3Lo":-0.88,"resHi":0.29,"resLo":-0.28,"difHi":0.73,"difLo":-0.72},
      {"t":98,"mp3Hi":0.88,"mp3Lo":-0.86,"resHi":0.28,"resLo":-0.27,"difHi":0.75,"difLo":-0.74},
      {"t":100,"mp3Hi":0.87,"mp3Lo":-0.87,"resHi":0.35,"resLo":-0.36,"difHi":0.90,"difLo":-0.92},
      {"t":102,"mp3Hi":0.88,"mp3Lo":-0.86,"resHi":0.36,"resLo":-0.35,"difHi":0.95,"difLo":-0.94},
      {"t":104,"mp3Hi":0.86,"mp3Lo":-0.88,"resHi":0.37,"resLo":-0.36,"difHi":0.97,"difLo":-0.96},
      {"t":106,"mp3Hi":0.89,"mp3Lo":-0.87,"resHi":0.36,"resLo":-0.37,"difHi":0.94,"difLo":-0.98},
      {"t":108,"mp3Hi":0.87,"mp3Lo":-0.86,"resHi":0.35,"resLo":-0.36,"difHi":0.96,"difLo":-0.95},
      {"t":110,"mp3Hi":0.88,"mp3Lo":-0.88,"resHi":0.37,"resLo":-0.35,"difHi":0.93,"difLo":-0.97},
      {"t":112,"mp3Hi":0.86,"mp3Lo":-0.87,"resHi":0.36,"resLo":-0.36,"difHi":0.80,"difLo":-0.82},
      {"t":114,"mp3Hi":0.87,"mp3Lo":-0.85,"resHi":0.35,"resLo":-0.37,"difHi":0.72,"difLo":-0.75},
      {"t":116,"mp3Hi":0.88,"mp3Lo":-0.88,"resHi":0.37,"resLo":-0.36,"difHi":0.85,"difLo":-0.86},
      {"t":118,"mp3Hi":0.86,"mp3Lo":-0.87,"resHi":0.38,"resLo":-0.37,"difHi":1.00,"difLo":-1.02},
      {"t":120,"mp3Hi":0.89,"mp3Lo":-0.86,"resHi":0.39,"resLo":-0.38,"difHi":1.05,"difLo":-1.04},
      {"t":122,"mp3Hi":0.87,"mp3Lo":-0.88,"resHi":0.38,"resLo":-0.39,"difHi":1.02,"difLo":-1.06},
      {"t":124,"mp3Hi":0.88,"mp3Lo":-0.87,"resHi":0.40,"resLo":-0.38,"difHi":1.06,"difLo":-1.03},
      {"t":126,"mp3Hi":0.86,"mp3Lo":-0.88,"resHi":0.39,"resLo":-0.40,"difHi":1.03,"difLo":-1.07},
      {"t":128,"mp3Hi":0.88,"mp3Lo":-0.86,"resHi":0.40,"resLo":-0.39,"difHi":1.08,"difLo":-1.04},
      {"t":130,"mp3Hi":0.87,"mp3Lo":-0.87,"resHi":0.38,"resLo":-0.38,"difHi":1.04,"difLo":-1.05},
      {"t":131.1,"mp3Hi":0.84,"mp3Lo":-0.84,"resHi":0.36,"resLo":-0.36,"difHi":0.98,"difLo":-0.98},
      {"t":131.5,"mp3Hi":0.32,"mp3Lo":-0.30,"resHi":0.20,"resLo":-0.20,"difHi":0.50,"difLo":-0.48},
      {"t":133,"mp3Hi":0.28,"mp3Lo":-0.26,"resHi":0.15,"resLo":-0.14,"difHi":0.32,"difLo":-0.30},
      {"t":135.4,"mp3Hi":0.27,"mp3Lo":-0.25,"resHi":0.14,"resLo":-0.15,"difHi":0.30,"difLo":-0.31},
      {"t":135.8,"mp3Hi":0.15,"mp3Lo":-0.15,"resHi":0.10,"resLo":-0.10,"difHi":0.20,"difLo":-0.20},
      {"t":136.3,"mp3Hi":0.38,"mp3Lo":-0.35,"resHi":0.19,"resLo":-0.20,"difHi":0.52,"difLo":-0.48},
      {"t":138,"mp3Hi":0.44,"mp3Lo":-0.40,"resHi":0.20,"resLo":-0.21,"difHi":0.55,"difLo":-0.50},
      {"t":140,"mp3Hi":0.42,"mp3Lo":-0.42,"resHi":0.21,"resLo":-0.20,"difHi":0.56,"difLo":-0.52},
      {"t":142,"mp3Hi":0.45,"mp3Lo":-0.40,"resHi":0.20,"resLo":-0.19,"difHi":0.54,"difLo":-0.50},
      {"t":144,"mp3Hi":0.43,"mp3Lo":-0.43,"resHi":0.22,"resLo":-0.21,"difHi":0.58,"difLo":-0.53},
      {"t":146,"mp3Hi":0.46,"mp3Lo":-0.41,"resHi":0.21,"resLo":-0.20,"difHi":0.55,"difLo":-0.51},
      {"t":148,"mp3Hi":0.44,"mp3Lo":-0.42,"resHi":0.20,"resLo":-0.22,"difHi":0.57,"difLo":-0.52},
      {"t":150,"mp3Hi":0.45,"mp3Lo":-0.40,"resHi":0.22,"resLo":-0.21,"difHi":0.54,"difLo":-0.50},
      {"t":152,"mp3Hi":0.43,"mp3Lo":-0.41,"resHi":0.21,"resLo":-0.20,"difHi":0.56,"difLo":-0.51},
      {"t":152.9,"mp3Hi":0.40,"mp3Lo":-0.38,"resHi":0.19,"resLo":-0.19,"difHi":0.52,"difLo":-0.48},
      {"t":153.2,"mp3Hi":0.20,"mp3Lo":-0.20,"resHi":0.10,"resLo":-0.10,"difHi":0.25,"difLo":-0.25},
      {"t":153.5,"mp3Hi":0.84,"mp3Lo":-0.82,"resHi":0.30,"resLo":-0.30,"difHi":0.78,"difLo":-0.78},
      {"t":156,"mp3Hi":0.86,"mp3Lo":-0.85,"resHi":0.32,"resLo":-0.31,"difHi":0.80,"difLo":-0.82},
      {"t":158,"mp3Hi":0.87,"mp3Lo":-0.86,"resHi":0.31,"resLo":-0.33,"difHi":0.88,"difLo":-0.90},
      {"t":160,"mp3Hi":0.86,"mp3Lo":-0.87,"resHi":0.33,"resLo":-0.32,"difHi":0.94,"difLo":-0.95},
      {"t":162,"mp3Hi":0.88,"mp3Lo":-0.85,"resHi":0.32,"resLo":-0.33,"difHi":0.96,"difLo":-0.93},
      {"t":164,"mp3Hi":0.86,"mp3Lo":-0.87,"resHi":0.34,"resLo":-0.32,"difHi":0.93,"difLo":-0.97},
      {"t":166,"mp3Hi":0.87,"mp3Lo":-0.86,"resHi":0.33,"resLo":-0.34,"difHi":0.97,"difLo":-0.95},
      {"t":168,"mp3Hi":0.88,"mp3Lo":-0.87,"resHi":0.32,"resLo":-0.33,"difHi":0.95,"difLo":-0.98},
      {"t":170,"mp3Hi":0.86,"mp3Lo":-0.86,"resHi":0.34,"resLo":-0.32,"difHi":0.98,"difLo":-0.94},
      {"t":172,"mp3Hi":0.87,"mp3Lo":-0.88,"resHi":0.33,"resLo":-0.33,"difHi":0.94,"difLo":-0.96},
      {"t":173.8,"mp3Hi":0.85,"mp3Lo":-0.85,"resHi":0.31,"resLo":-0.31,"difHi":0.92,"difLo":-0.92},
      {"t":174.1,"mp3Hi":0.25,"mp3Lo":-0.25,"resHi":0.10,"resLo":-0.10,"difHi":0.30,"difLo":-0.30},
      {"t":174.4,"mp3Hi":0.80,"mp3Lo":-0.80,"resHi":0.27,"resLo":-0.27,"difHi":0.66,"difLo":-0.66},
      {"t":176,"mp3Hi":0.80,"mp3Lo":-0.83,"resHi":0.28,"resLo":-0.27,"difHi":0.68,"difLo":-0.70},
      {"t":178,"mp3Hi":0.82,"mp3Lo":-0.81,"resHi":0.27,"resLo":-0.29,"difHi":0.70,"difLo":-0.68},
      {"t":180,"mp3Hi":0.79,"mp3Lo":-0.84,"resHi":0.28,"resLo":-0.28,"difHi":0.67,"difLo":-0.71},
      {"t":182,"mp3Hi":0.81,"mp3Lo":-0.82,"resHi":0.29,"resLo":-0.28,"difHi":0.80,"difLo":-0.82},
      {"t":184,"mp3Hi":0.83,"mp3Lo":-0.83,"resHi":0.31,"resLo":-0.30,"difHi":0.94,"difLo":-0.95},
      {"t":186,"mp3Hi":0.82,"mp3Lo":-0.84,"resHi":0.32,"resLo":-0.31,"difHi":0.97,"difLo":-0.96},
      {"t":188,"mp3Hi":0.84,"mp3Lo":-0.82,"resHi":0.31,"resLo":-0.32,"difHi":0.95,"difLo":-0.98},
      {"t":190,"mp3Hi":0.83,"mp3Lo":-0.85,"resHi":0.32,"resLo":-0.31,"difHi":0.98,"difLo":-0.95},
      {"t":192,"mp3Hi":0.85,"mp3Lo":-0.83,"resHi":0.31,"resLo":-0.32,"difHi":0.96,"difLo":-0.97},
      {"t":194,"mp3Hi":0.84,"mp3Lo":-0.85,"resHi":0.32,"resLo":-0.30,"difHi":0.94,"difLo":-0.96},
      {"t":196,"mp3Hi":0.86,"mp3Lo":-0.86,"resHi":0.32,"resLo":-0.33,"difHi":0.92,"difLo":-0.93},
      {"t":198,"mp3Hi":0.87,"mp3Lo":-0.86,"resHi":0.33,"resLo":-0.32,"difHi":0.93,"difLo":-0.91},
      {"t":200,"mp3Hi":0.86,"mp3Lo":-0.88,"resHi":0.32,"resLo":-0.33,"difHi":0.90,"difLo":-0.94},
      {"t":202,"mp3Hi":0.88,"mp3Lo":-0.86,"resHi":0.34,"resLo":-0.32,"difHi":0.92,"difLo":-0.92},
      {"t":204,"mp3Hi":0.87,"mp3Lo":-0.87,"resHi":0.33,"resLo":-0.34,"difHi":0.91,"difLo":-0.93},
      {"t":206,"mp3Hi":0.86,"mp3Lo":-0.88,"resHi":0.32,"resLo":-0.33,"difHi":0.88,"difLo":-0.90},
      {"t":208,"mp3Hi":0.88,"mp3Lo":-0.86,"resHi":0.33,"resLo":-0.32,"difHi":0.78,"difLo":-0.80},
      {"t":210,"mp3Hi":0.87,"mp3Lo":-0.87,"resHi":0.32,"resLo":-0.33,"difHi":0.75,"difLo":-0.78},
      {"t":212,"mp3Hi":0.86,"mp3Lo":-0.88,"resHi":0.33,"resLo":-0.32,"difHi":0.80,"difLo":-0.82},
      {"t":214,"mp3Hi":0.88,"mp3Lo":-0.86,"resHi":0.34,"resLo":-0.33,"difHi":0.93,"difLo":-0.94},
      {"t":216,"mp3Hi":0.87,"mp3Lo":-0.87,"resHi":0.33,"resLo":-0.34,"difHi":0.95,"difLo":-0.96},
      {"t":218,"mp3Hi":0.86,"mp3Lo":-0.88,"resHi":0.32,"resLo":-0.33,"difHi":0.94,"difLo":-0.95},
      {"t":219.3,"mp3Hi":0.84,"mp3Lo":-0.84,"resHi":0.31,"resLo":-0.31,"difHi":0.90,"difLo":-0.90},
      {"t":220,"mp3Hi":0.62,"mp3Lo":-0.60,"resHi":0.24,"resLo":-0.24,"difHi":0.65,"difLo":-0.65},
      {"t":220.7,"mp3Hi":0.38,"mp3Lo":-0.36,"resHi":0.15,"resLo":-0.15,"difHi":0.40,"difLo":-0.40},
      {"t":221.3,"mp3Hi":0.16,"mp3Lo":-0.15,"resHi":0.07,"resLo":-0.07,"difHi":0.18,"difLo":-0.18},
      {"t":221.8,"mp3Hi":0.06,"mp3Lo":-0.06,"resHi":0.03,"resLo":-0.03,"difHi":0.07,"difLo":-0.07},
      {"t":222.5,"mp3Hi":0.04,"mp3Lo":-0.04,"resHi":0.02,"resLo":-0.02,"difHi":0.05,"difLo":-0.05},
      {"t":223,"mp3Hi":0.02,"mp3Lo":-0.02,"resHi":0.01,"resLo":-0.01,"difHi":0.03,"difLo":-0.03},
      {"t":224,"mp3Hi":0.01,"mp3Lo":-0.01,"resHi":0.006,"resLo":-0.006,"difHi":0.015,"difLo":-0.015},
      {"t":226.3,"mp3Hi":0.006,"mp3Lo":-0.006,"resHi":0.004,"resLo":-0.004,"difHi":0.01,"difLo":-0.01}
    ]
  },
  "vconcat": [
    {
      "width": 1519, "height": 242.5,
      "title": {"text": "Original MP3 (downmixed to mono)"},
      "layer": [
        {
          "data": {"name": "peaks"},
          "mark": {"type": "area", "color": {"gradient": "linear", "x1": 0, "y1": 0, "x2": 0, "y2": 1,
            "stops": [
              {"offset": 0, "color": "rgba(77,171,245,0.22)"},
              {"offset": 0.3, "color": "rgba(77,171,245,0.5)"},
              {"offset": 0.5, "color": "rgba(77,171,245,0.8)"},
              {"offset": 0.7, "color": "rgba(77,171,245,0.5)"},
              {"offset": 1, "color": "rgba(77,171,245,0.22)"}]}},
          "encoding": {
            "x": {"field": "t", "type": "quantitative",
                  "scale": {"domain": [-11.3, 237.4], "nice": false, "zero": false},
                  "axis": {"values": [0, 50, 100, 150, 200], "labels": false, "title": null}},
            "y": {"field": "mp3Lo", "type": "quantitative",
                  "scale": {"domain": [-1.1, 1.1], "nice": false, "zero": false},
                  "axis": {"values": [-1, -0.75, -0.5, -0.25, 0, 0.25, 0.5, 0.75, 1], "format": ".2f", "title": "Amplitude", "titlePadding": 6}},
            "y2": {"field": "mp3Hi"}
          }
        },
        {
          "data": {"name": "core"},
          "mark": {"type": "area", "color": "#4DABF5", "opacity": 1},
          "encoding": {
            "x": {"field": "t", "type": "quantitative"},
            "y": {"field": "mp3Lo", "type": "quantitative"},
            "y2": {"field": "mp3Hi"}
          }
        },
        {
          "data": {"name": "peaks"},
          "mark": {"type": "rule", "color": "#4DABF5", "strokeWidth": 1, "opacity": 0.5},
          "encoding": {
            "x": {"field": "t", "type": "quantitative"},
            "y": {"field": "mp3Lo", "type": "quantitative"},
            "y2": {"field": "mp3Hi"}
          }
        }
      ]
    },
    {
      "width": 1519, "height": 242.5,
      "title": {"text": "RESYNTH HiFi WAV"},
      "layer": [
        {
          "data": {"name": "peaks"},
          "mark": {"type": "area", "color": {"gradient": "linear", "x1": 0, "y1": 0, "x2": 0, "y2": 1,
            "stops": [
              {"offset": 0, "color": "rgba(255,121,78,0.22)"},
              {"offset": 0.3, "color": "rgba(255,121,78,0.5)"},
              {"offset": 0.5, "color": "rgba(255,121,78,0.8)"},
              {"offset": 0.7, "color": "rgba(255,121,78,0.5)"},
              {"offset": 1, "color": "rgba(255,121,78,0.22)"}]}},
          "encoding": {
            "x": {"field": "t", "type": "quantitative",
                  "scale": {"domain": [-11.3, 237.4], "nice": false, "zero": false},
                  "axis": {"values": [0, 50, 100, 150, 200], "labels": false, "title": null}},
            "y": {"field": "resLo", "type": "quantitative",
                  "scale": {"domain": [-1.1, 1.1], "nice": false, "zero": false},
                  "axis": {"values": [-1, -0.75, -0.5, -0.25, 0, 0.25, 0.5, 0.75, 1], "format": ".2f", "title": "Amplitude", "titlePadding": 6}},
            "y2": {"field": "resHi"}
          }
        },
        {
          "data": {"name": "core"},
          "mark": {"type": "area", "color": "#FF794E", "opacity": 1},
          "encoding": {
            "x": {"field": "t", "type": "quantitative"},
            "y": {"field": "resLo", "type": "quantitative"},
            "y2": {"field": "resHi"}
          }
        },
        {
          "data": {"name": "peaks"},
          "mark": {"type": "rule", "color": "#FF794E", "strokeWidth": 1, "opacity": 0.5},
          "encoding": {
            "x": {"field": "t", "type": "quantitative"},
            "y": {"field": "resLo", "type": "quantitative"},
            "y2": {"field": "resHi"}
          }
        }
      ]
    },
    {
      "width": 1519, "height": 242.5,
      "title": {"text": "Difference (MP3 - RESYNTH)"},
      "layer": [
        {
          "data": {"name": "peaks"},
          "mark": {"type": "area", "color": {"gradient": "linear", "x1": 0, "y1": 0, "x2": 0, "y2": 1,
            "stops": [
              {"offset": 0, "color": "rgba(112,191,115,0.22)"},
              {"offset": 0.3, "color": "rgba(112,191,115,0.5)"},
              {"offset": 0.5, "color": "rgba(112,191,115,0.8)"},
              {"offset": 0.7, "color": "rgba(112,191,115,0.5)"},
              {"offset": 1, "color": "rgba(112,191,115,0.22)"}]}},
          "encoding": {
            "x": {"field": "t", "type": "quantitative",
                  "scale": {"domain": [-11.3, 237.4], "nice": false, "zero": false},
                  "axis": {"values": [0, 50, 100, 150, 200], "title": "Time (seconds)", "titlePadding": 7}},
            "y": {"field": "difLo", "type": "quantitative",
                  "scale": {"domain": [-1.76, 1.873], "nice": false, "zero": false},
                  "axis": {"values": [-1.5, -1, -0.5, 0, 0.5, 1, 1.5], "format": ".1f", "title": "Amplitude", "titlePadding": 6}},
            "y2": {"field": "difHi"}
          }
        },
        {
          "data": {"name": "core"},
          "mark": {"type": "area", "color": "#70BF73", "opacity": 1},
          "encoding": {
            "x": {"field": "t", "type": "quantitative"},
            "y": {"field": "difLo", "type": "quantitative"},
            "y2": {"field": "difHi"}
          }
        },
        {
          "data": {"name": "peaks"},
          "mark": {"type": "rule", "color": "#70BF73", "strokeWidth": 1, "opacity": 0.5},
          "encoding": {
            "x": {"field": "t", "type": "quantitative"},
            "y": {"field": "difLo", "type": "quantitative"},
            "y2": {"field": "difHi"}
          }
        }
      ]
    }
  ]
}
